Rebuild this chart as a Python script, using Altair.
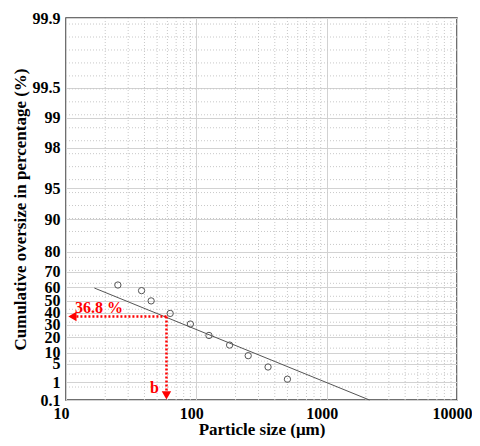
import altair as alt
import pandas as pd
import numpy as np

# ---- data ----
sizes = [25, 38, 45, 63, 90, 125, 180, 250, 355, 500]          # particle size (um)
oversize = [61.7, 57.7, 49.8, 39.4, 30.4, 21.2, 14.4, 8.4, 4.0, 1.4]  # cumulative oversize (%)
fit_sizes = [16.5, 2130]
fit_oversize = [59.6, 0.1]
y_ticks = [0.1, 1, 5, 10, 20, 30, 40, 50, 60, 70, 80, 90, 95, 98, 99, 99.5, 99.9]
x_ticks = [10, 100, 1000, 10000]
x_minor = [20, 30, 40, 50, 60, 70, 80, 90, 200, 300, 400, 500, 600, 700, 800, 900,
           2000, 3000, 4000, 5000, 6000, 7000, 8000, 9000]
b_size = 59
b_level = 36.8
arrow_left_size = 11.2
arrow_down_level = 0.2


def rr(p):
    """Rosin-Rammler probability transform."""
    return -np.log(np.log(100.0 / np.asarray(p, dtype=float)))


ymin, ymax = float(rr(0.1)), float(rr(99.9))
y_minor = list(np.arange(ymin + 0.3, ymax, 0.3))

FONT = "Liberation Serif"
GRID = "#d2d2d2"
MINOR = "#c8c8c8"
RED = "#ff0000"

xscale = alt.Scale(type="log", domain=[10, 10000])
yscale = alt.Scale(domain=[ymin, ymax], zero=False, nice=False)

pts = pd.DataFrame({"size": sizes, "yt": rr(oversize)})
fit = pd.DataFrame({"size": fit_sizes, "yt": rr(fit_oversize)})
vminor = pd.DataFrame({"size": x_minor})
hminor = pd.DataFrame({"yt": y_minor})

xaxis = alt.Axis(values=x_ticks, format="d", title="Particle size (μm)", grid=True,
                 gridColor=GRID, gridWidth=1, ticks=False, domain=False,
                 labelPadding=5, labelOffset=-5, labelFlush=False, titlePadding=0)
yaxis = alt.Axis(values=[float(v) for v in rr(y_ticks)],
                 labelExpr="format(100*exp(-exp(-datum.value)), '.3~r')",
                 title="Cumulative oversize in percentage (%)", grid=True,
                 gridColor=GRID, gridWidth=1, ticks=False, domain=False,
                 labelPadding=6, labelOverlap=False, labelFlush=False, titlePadding=3)

X = alt.X("size:Q", scale=xscale, axis=xaxis)
Y = alt.Y("yt:Q", scale=yscale, axis=yaxis)

vgrid = alt.Chart(vminor).mark_rule(color=MINOR, strokeDash=[1, 2], strokeWidth=1).encode(x=X)
hgrid = alt.Chart(hminor).mark_rule(color=MINOR, strokeDash=[1, 2], strokeWidth=1).encode(y=Y)

line = alt.Chart(fit).mark_line(color="#555555", strokeWidth=1).encode(x=X, y=Y)

points = alt.Chart(pts).mark_point(shape="circle", filled=False, color="#555555",
                                   size=40, strokeWidth=1, opacity=1).encode(x=X, y=Y)

hred = pd.DataFrame({"size": [b_size, arrow_left_size], "yt": [float(rr(b_level))] * 2})
vred = pd.DataFrame({"size": [b_size, b_size], "yt": [float(rr(b_level)), float(rr(arrow_down_level))]})

hline = alt.Chart(hred).mark_line(color=RED, strokeDash=[2, 2], strokeWidth=2.5).encode(x=X, y=Y)
vline = alt.Chart(vred).mark_line(color=RED, strokeDash=[2, 2], strokeWidth=2.5).encode(x=X, y=Y)

harrow = alt.Chart(pd.DataFrame({"size": [arrow_left_size], "yt": [float(rr(b_level))]})).mark_point(
    shape="triangle-left", filled=True, color=RED, size=90, opacity=1).encode(x=X, y=Y)
varrow = alt.Chart(pd.DataFrame({"size": [b_size], "yt": [float(rr(arrow_down_level))]})).mark_point(
    shape="triangle-down", filled=True, color=RED, size=90, opacity=1).encode(x=X, y=Y)

txt1 = alt.Chart(pd.DataFrame({"size": [10], "yt": [float(rr(b_level))], "t": ["36.8 %"]})).mark_text(
    align="left", baseline="alphabetic", dx=9, dy=-3, font=FONT, fontWeight="bold",
    fontSize=16, color=RED).encode(x=X, y=Y, text="t:N")
txt2 = alt.Chart(pd.DataFrame({"size": [b_size], "yt": [float(rr(arrow_down_level))], "t": ["b"]})).mark_text(
    align="center", baseline="alphabetic", dx=-12, dy=-2, font=FONT, fontWeight="bold",
    fontSize=16, color=RED).encode(x=X, y=Y, text="t:N")

chart = alt.layer(vgrid, hgrid, line, points, hline, vline, harrow, varrow, txt1, txt2).properties(
    width=391, height=382,
    autosize=alt.AutoSizeParams(type="none"),
    padding={"left": 58, "top": 10, "right": 15, "bottom": 38},
).configure_view(stroke="#404040", strokeWidth=1.5).configure_axis(
    labelFont=FONT, labelFontWeight="bold", labelFontSize=16, labelColor="black",
    titleFont=FONT, titleFontWeight="bold", titleFontSize=17, titleColor="black",
)

chart.save("out.html", embed_options={"renderer": "svg", "actions": False})
